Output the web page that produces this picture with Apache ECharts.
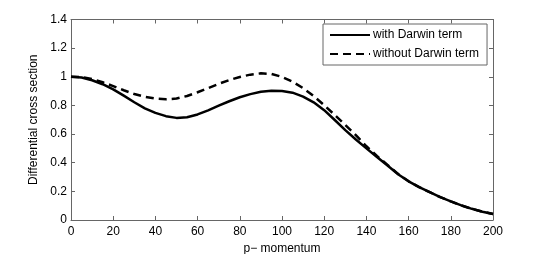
<!DOCTYPE html>
<html><head><meta charset="utf-8">
<script src="https://cdn.jsdelivr.net/npm/echarts@6/dist/echarts.min.js"></script>
<style>html,body{margin:0;padding:0;background:#fff}#c{width:545px;height:254px}</style>
</head><body><div id="c"></div>
<script>
const momentum = [0,5,10,15,20,25,30,35,40,45,50,55,60,65,70,75,80,85,90,95,100,105,110,115,120,125,130,135,140,145,150,155,160,165,170,175,180,185,190,195,200];
const withDarwin = [1.0,0.995,0.976,0.948,0.912,0.868,0.822,0.78,0.748,0.725,0.713,0.718,0.737,0.766,0.798,0.829,0.857,0.879,0.895,0.902,0.9,0.889,0.862,0.822,0.767,0.698,0.628,0.562,0.5,0.44,0.38,0.32,0.27,0.23,0.194,0.16,0.13,0.102,0.078,0.058,0.042];
const withoutDarwin = [1.0,0.997,0.985,0.962,0.935,0.906,0.88,0.86,0.848,0.843,0.848,0.866,0.892,0.921,0.951,0.977,0.999,1.015,1.024,1.02,0.999,0.966,0.921,0.866,0.802,0.733,0.663,0.592,0.515,0.447,0.385,0.322,0.27,0.23,0.194,0.16,0.13,0.102,0.078,0.058,0.042];
const seriesNames = ['with Darwin term','without Darwin term'];
const xTicks = [0,20,40,60,80,100,120,140,160,180,200];
const yTicks = [0,0.2,0.4,0.6,0.8,1,1.2,1.4];

const font = 'Liberation Sans, Arial, Helvetica, sans-serif';
const axisCol = '#666';
const chart = echarts.init(document.getElementById('c'), null, {renderer:'canvas'});
const pair = a => momentum.map((m,i)=>[m,a[i]]);
const baseX = {type:'value', min:0, max:200, interval:20,
  axisLine:{show:true,onZero:false,lineStyle:{color:axisCol,width:1}},
  axisTick:{show:true,inside:true,length:4,lineStyle:{color:axisCol}},
  splitLine:{show:false}};
const baseY = {type:'value', min:0, max:1.4, interval:0.2,
  axisLine:{show:true,onZero:false,lineStyle:{color:axisCol,width:1}},
  axisTick:{show:true,inside:true,length:4,lineStyle:{color:axisCol}},
  splitLine:{show:false}};
chart.setOption({
  animation:false,
  backgroundColor:'#fff',
  grid:{left:71,right:52,top:19.5,bottom:34,containLabel:false,outerBoundsMode:'none'},
  legend:{
    show:true, left:323, top:24, orient:'vertical',
    data:seriesNames,
    backgroundColor:'#fff', borderColor:axisCol, borderWidth:1,
    padding:[3,8,3,6], itemGap:3, itemWidth:40, itemHeight:2,
    itemStyle:{opacity:0},
    textStyle:{fontFamily:font,fontSize:12,color:'#000',padding:[1,0,1,-2],lineHeight:14}
  },
  xAxis:[
    Object.assign({}, baseX, {position:'bottom',
      name:'p\u2212 momentum', nameLocation:'middle', nameGap:22,
      nameTextStyle:{fontFamily:font,fontSize:12,color:'#000'},
      axisLabel:{fontFamily:font,fontSize:12,color:'#000',margin:6}}),
    Object.assign({}, baseX, {position:'top', axisLabel:{show:false}})
  ],
  yAxis:[
    Object.assign({}, baseY, {position:'left',
      name:'Differential cross section', nameLocation:'middle', nameGap:25,
      nameTextStyle:{fontFamily:font,fontSize:12,color:'#000'},
      axisLabel:{fontFamily:font,fontSize:12,color:'#000',margin:4,
        formatter:v=>String(Math.round(v*10)/10)}}),
    Object.assign({}, baseY, {position:'right', axisLabel:{show:false}})
  ],
  series:[
    {name:seriesNames[0], type:'line', data:pair(withDarwin), smooth:false,
     showSymbol:false, symbol:'none', xAxisIndex:0, yAxisIndex:0,
     lineStyle:{color:'#000',width:2.5,type:'solid',join:'round'}, itemStyle:{color:'#000'}},
    {name:seriesNames[1], type:'line', data:pair(withoutDarwin), smooth:false,
     showSymbol:false, symbol:'none', xAxisIndex:0, yAxisIndex:0,
     lineStyle:{color:'#000',width:2.5,type:[8,5],join:'round'}, itemStyle:{color:'#000'}}
  ]
});
</script></body></html>
